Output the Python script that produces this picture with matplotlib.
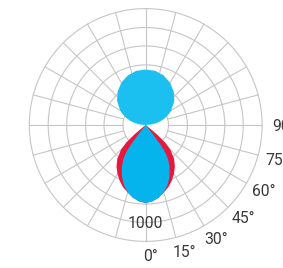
import numpy as np
import matplotlib
matplotlib.use("Agg")
import matplotlib.pyplot as plt

plt.rcParams['font.family'] = ['Roboto', 'DejaVu Sans']

# ---- data (candela, gamma angle in degrees from nadir) ----
red_gamma = [0, 5, 10, 15, 20, 25, 30, 35, 40, 45, 48, 50, 51, 52]
red_cd    = [805, 790, 760, 720, 682, 635, 582, 525, 455, 360, 270, 150, 60, 0]

blue_gamma = [0, 5, 10, 15, 20, 25, 30, 33, 35, 36, 37, 38, 39]
blue_cd    = [805, 790, 762, 718, 658, 582, 490, 425, 365, 320, 250, 120, 0]

up_gamma = [90, 95, 100, 105, 110, 115, 120, 130, 140, 150, 160, 170, 180]
up_cd    = [0, 60, 115, 165, 215, 262, 305, 385, 450, 503, 543, 567, 572]

ring_values = [235, 430, 620, 815, 1005, 1200]
spoke_angles = list(range(0, 360, 15))
angle_labels = ['0°', '15°', '30°', '45°', '60°', '75°', '90']
angle_label_pos = [0, 15, 30, 45, 60, 75, 90]
value_label = '1000'
value_label_r = 1000
r_max = 1200

# ---- figure ----
W, H = 283, 268
fig = plt.figure(figsize=(W / 100, H / 100), dpi=100)
cx, cy, R = 145.7, 125.0, 116.4
ax = fig.add_axes([(cx - R) / W, (H - cy - R) / H, 2 * R / W, 2 * R / H],
                  projection='polar')
ax.set_theta_zero_location('S')
ax.set_theta_direction(1)
ax.set_ylim(0, r_max)
ax.grid(False)
ax.set_xticks([])
ax.set_yticks([])
ax.spines['polar'].set_visible(False)
ax.patch.set_alpha(0)

grid_col = '#c6c6c6'
t = np.linspace(0, 2 * np.pi, 721)
for rv in ring_values:
    ax.plot(t, np.full_like(t, rv), color=grid_col, lw=0.8, clip_on=False, zorder=1)
for a in spoke_angles:
    ax.plot([np.radians(a)] * 2, [ring_values[0], r_max], color=grid_col, lw=0.8,
            clip_on=False, zorder=1)


def mirrored(g, v):
    g = np.asarray(g, float)
    v = np.asarray(v, float)
    th = np.concatenate([g, 360 - g[::-1]])
    rr = np.concatenate([v, v[::-1]])
    return np.radians(th), rr


th, rr = mirrored(red_gamma, red_cd)
ax.fill(th, rr, color='#e8183c', lw=0, zorder=2)
th, rr = mirrored(blue_gamma, blue_cd)
ax.fill(th, rr, color='#05b4ec', lw=0, zorder=3)
th, rr = mirrored(up_gamma, up_cd)
ax.fill(th, rr, color='#1bbff0', lw=0, zorder=3)

txt_col = '#3a3a3a'
fs = 11.3
ax.text(0, value_label_r, value_label, ha='center', va='center_baseline',
        fontsize=fs, color=txt_col, zorder=5)
lab_r = 1345
for lab, a in zip(angle_labels, angle_label_pos):
    ax.annotate(lab, xy=(np.radians(a), lab_r), xytext=(5, 0),
                textcoords='offset pixels', ha='center', va='center_baseline',
                fontsize=fs, color=txt_col, annotation_clip=False)

fig.savefig('out.png', dpi=100)
